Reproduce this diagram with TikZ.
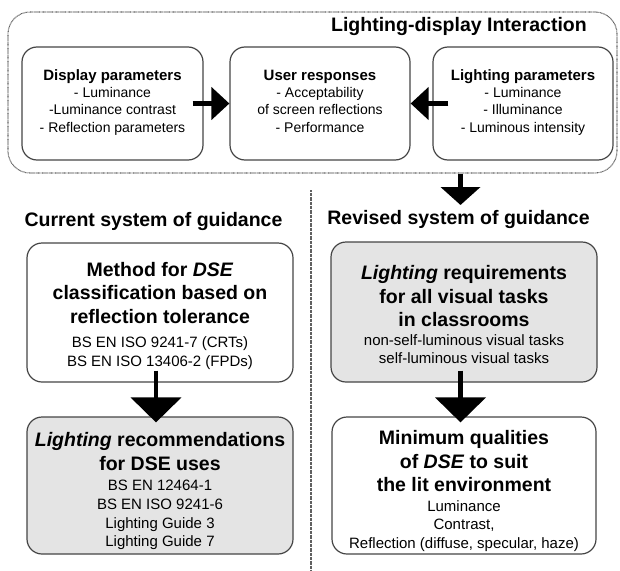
\documentclass[tikz,border=0pt]{standalone}
\usepackage{fontspec}
\setmainfont{Liberation Sans}
\usetikzlibrary{arrows.meta}
\definecolor{boxline}{HTML}{454545}
\definecolor{boxfill}{HTML}{E4E4E4}
\definecolor{dotline}{HTML}{606060}
\begin{document}
\begin{tikzpicture}[x=1pt,y=-1pt,
  panel/.style={draw=boxline, line width=1.2pt, rounded corners=15pt, inner sep=0pt},
  grouped/.style={draw=dotline, line width=1.1pt, dash pattern=on 0.7pt off 0.6pt, rounded corners=22pt, inner sep=0pt},
  hb/.style={anchor=base, inner sep=0pt, font=\fontsize{15}{18}\selectfont\bfseries},
  hr/.style={anchor=base, inner sep=0pt, font=\fontsize{14}{17}\selectfont},
  big/.style={anchor=base, inner sep=0pt, font=\fontsize{19.5}{23}\selectfont\bfseries},
  small/.style={anchor=base, inner sep=0pt, font=\fontsize{15}{18}\selectfont},
  harrow/.style={line width=4.5pt, -{Triangle[length=18pt,width=32pt]}},
  darrow/.style={line width=4.5pt, -{Triangle[length=18pt,width=39pt]}},
  barrow/.style={line width=4.5pt, -{Triangle[length=25pt,width=50pt]}},
  divider/.style={draw=dotline, line width=1.1pt, dash pattern=on 0.7pt off 0.6pt}]
\useasboundingbox (0,0) rectangle (620,570);

% Lighting-display interaction group
\node[grouped, minimum width=609pt, minimum height=161pt] (interact) at (312.5,92.5) {};
\node[big, anchor=base east] (title) at (587,31.5) {Lighting-display Interaction};

\node[panel, minimum width=181pt, minimum height=113pt] (disp) at (112.5,103.5) {};
\node[panel, minimum width=180pt, minimum height=113pt] (user) at (320,103.5) {};
\node[panel, minimum width=180pt, minimum height=113pt] (light) at (523,103.5) {};

\node[hb] (d1) at (112.5,80) {Display parameters};
\node[hr] (d2) at (112.5,97.7) {- Luminance};
\node[hr] (d3) at (112.5,114.7) {-Luminance contrast};
\node[hr] (d4) at (112.5,132.7) {- Reflection parameters};

\node[hb] (u1) at (320,80) {User responses};
\node[hr] (u2) at (320,97.7) {- Acceptability};
\node[hr] (u3) at (320,114.7) {of screen reflections};
\node[hr] (u4) at (320,132.7) {- Performance};

\node[hb] (l1) at (523,80) {Lighting parameters};
\node[hr] (l2) at (523,97.7) {- Luminance};
\node[hr] (l3) at (523,114.7) {- Illuminance};
\node[hr] (l4) at (523,132.7) {- Luminous intensity};

\draw[harrow] ([xshift=-11pt]disp.east) -- (user.west);
\draw[harrow] ([xshift=16pt]light.west) -- (user.east);

% divider between the two systems
\coordinate (septop) at (311,190);
\coordinate (sepbot) at (311,570);
\draw[divider] (septop) -- (sepbot);

\coordinate (dtip) at (460.5,205);
\draw[darrow] (interact.south -| dtip) -- (dtip);

% headings
\node[big] (hcur) at (153.5,226.5) {Current system of guidance};
\node[big] (hrev) at (458.5,224.5) {Revised system of guidance};

% current system
\node[panel, fill=white, minimum width=266pt, minimum height=139pt] (method) at (160,312.5) {};
\node[panel, fill=boxfill, minimum width=266pt, minimum height=137pt] (recs) at (160,485.5) {};

\node[big] (m1) at (160,276.5) {Method for \textit{DSE}};
\node[big] (m2) at (160,299.5) {classification based on};
\node[big] (m3) at (160,323.5) {reflection tolerance};
\node[small] (m4) at (160,347) {BS EN ISO 9241-7 (CRTs)};
\node[small] (m5) at (160,366) {BS EN ISO 13406-2 (FPDs)};

\node[big] (c1) at (160,446.5) {\textit{Lighting} recommendations};
\node[big] (c2) at (160,470.5) {for DSE uses};
\node[small] (c3) at (160,490) {BS EN 12464-1};
\node[small] (c4) at (160,509) {BS EN ISO 9241-6};
\node[small] (c5) at (160,528) {Lighting Guide 3};
\node[small] (c6) at (160,546) {Lighting Guide 7};

% revised system
\node[panel, fill=boxfill, minimum width=266pt, minimum height=140pt] (req) at (464,312) {};
\node[panel, fill=white, minimum width=264pt, minimum height=137pt] (qual) at (464,485.5) {};

\node[big] (r1) at (464,279.5) {\textit{Lighting} requirements};
\node[big] (r2) at (464,303.5) {for all visual tasks};
\node[big] (r3) at (464,326.5) {in classrooms};
\node[small] (r4) at (464,345) {non-self-luminous visual tasks};
\node[small] (r5) at (464,363) {self-luminous visual tasks};

\node[big] (q1) at (464,444.5) {Minimum qualities};
\node[big] (q2) at (464,468.5) {of \textit{DSE} to suit};
\node[big] (q3) at (464,491.5) {the lit environment};
\node[small] (q4) at (464,511) {Luminance};
\node[small] (q5) at (464,529) {Contrast,};
\node[small] (q6) at (464,548) {Reflection (diffuse, specular, haze)};

\draw[barrow] ([xshift=-4pt,yshift=12pt]method.south) -- ([xshift=-4pt,yshift=-6pt]recs.north);
\draw[barrow] ([xshift=-3.5pt,yshift=12pt]req.south) -- ([xshift=-3.5pt,yshift=-6pt]qual.north);
\end{tikzpicture}
\end{document}
